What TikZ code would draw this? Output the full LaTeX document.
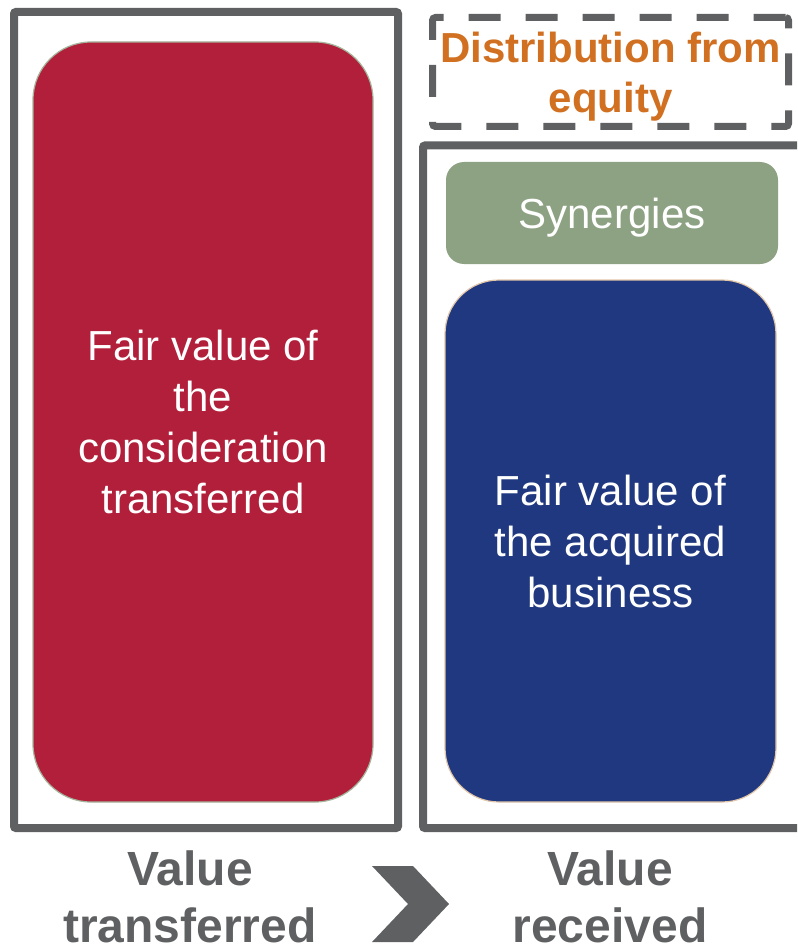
\documentclass[tikz,border=0pt]{standalone}
\usepackage{fontspec}
\setmainfont{Liberation Sans}
\definecolor{framegray}{HTML}{5F6062}
\definecolor{considred}{HTML}{B21F3A}
\definecolor{busblue}{HTML}{1F387F}
\definecolor{synggreen}{HTML}{8DA283}
\definecolor{distorange}{HTML}{D07020}

\tikzset{
  outerframe/.style={draw=framegray, line width=8pt, rounded corners=2pt},
  valuebox/.style={align=center, text=white, inner sep=0pt,
    font=\fontsize{42}{51}\selectfont},
  caption/.style={align=center, text=framegray, inner sep=0pt, anchor=north,
    font=\fontsize{48}{57}\selectfont\bfseries},
}

\begin{document}
\begin{tikzpicture}[x=1pt,y=-1pt]
\useasboundingbox (0,0) rectangle (797,944);
\clip (0,0) rectangle (797,944);

% the two frames
\draw[outerframe] (14,12) rectangle (398,828);
\draw[outerframe] (423,145.5) rectangle (805,828);

% distribution sits above the right frame
\node[draw=framegray, line width=7pt, dash pattern=on 32pt off 25pt,
  rounded corners=3pt, minimum width=356pt, minimum height=109pt,
  inner sep=0pt, align=center, text=distorange, text depth=0pt,
  font=\fontsize{42}{50}\selectfont\bfseries]
  (distrib) at (610.5,72) {Distribution from\\equity};

%% value transferred
\node[valuebox, fill=considred, draw=synggreen!80!white, line width=1.2pt,
  rounded corners=58pt, minimum width=340pt, minimum height=760pt]
  (consid) at (203,422) {Fair value of\\the\\consideration\\transferred};

%% value received
\node[valuebox, fill=synggreen, rounded corners=18pt, text depth=0pt,
  minimum width=332pt, minimum height=102pt]
  (synergy) at (612,213) {Synergies};
\node[valuebox, fill=busblue, draw=brown!45!white, line width=1.2pt,
  rounded corners=54pt, minimum width=331pt, minimum height=522pt]
  (acquired) at (610.5,541) {Fair value of\\the acquired\\business};

% captions and chevron
\node[caption] (transf) at (190,851) {Value\\transferred};
\node[caption] (received) at (610,851) {Value\\received};
\fill[framegray] (372,866) -- (413,866) -- (449,904) -- (413,942)
  -- (372,942) -- (408,904) -- cycle;

\end{tikzpicture}
\end{document}
